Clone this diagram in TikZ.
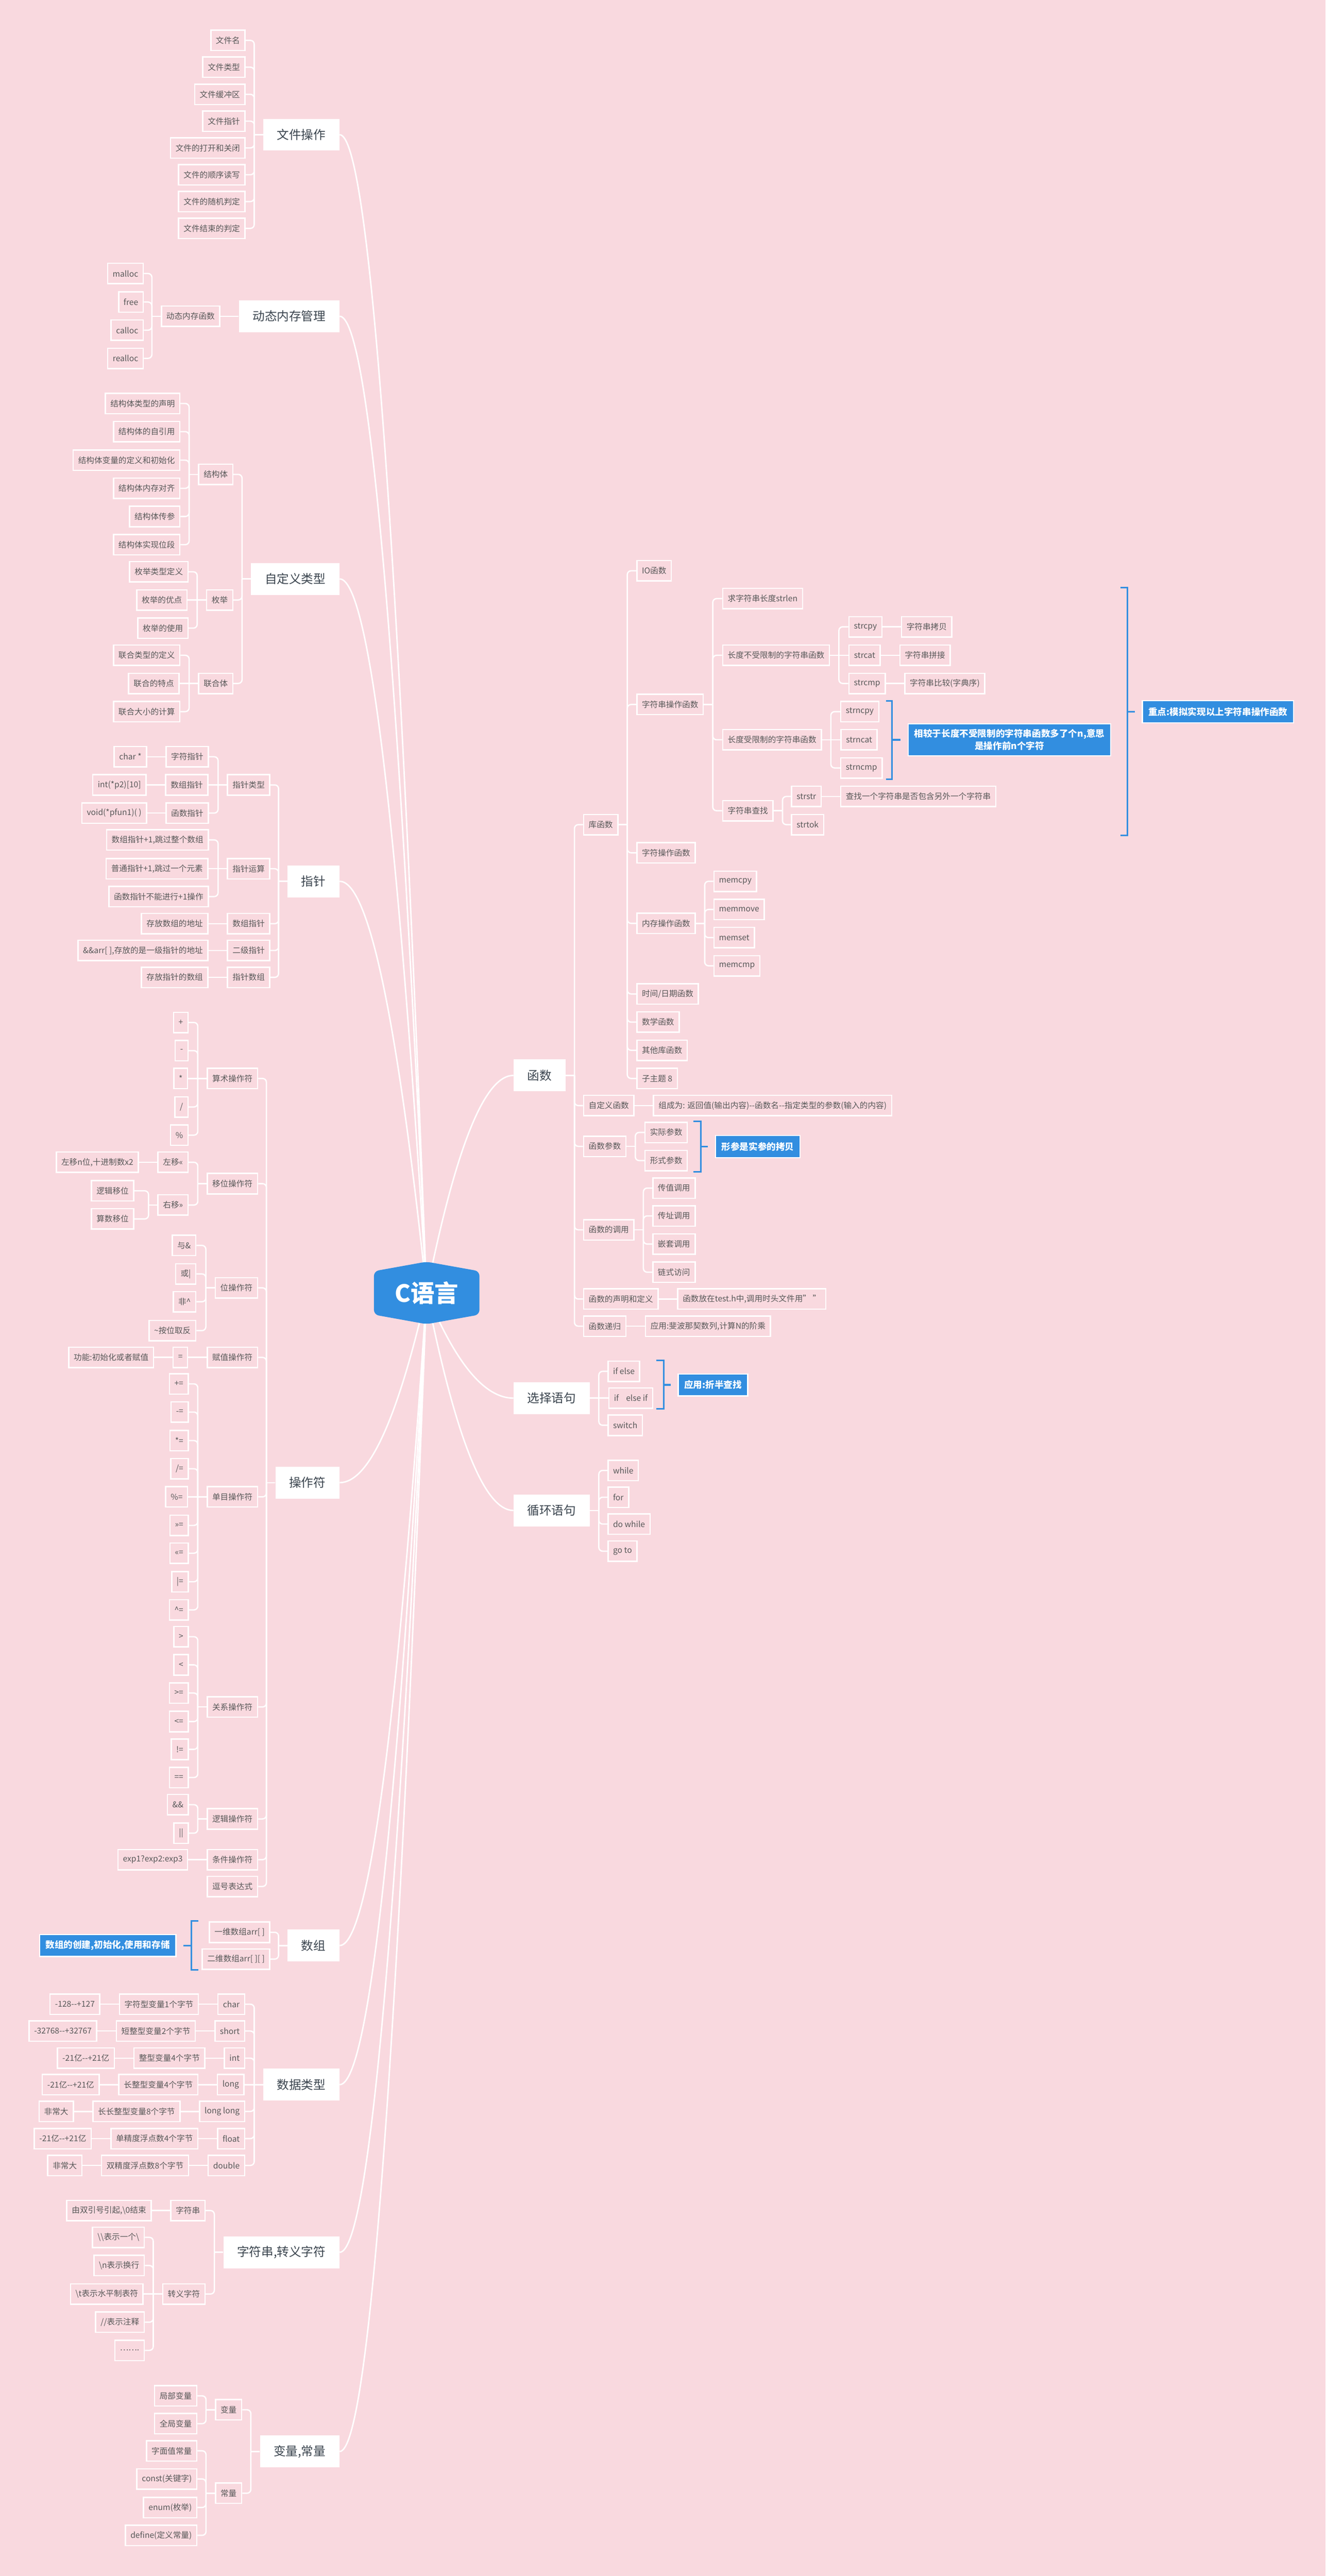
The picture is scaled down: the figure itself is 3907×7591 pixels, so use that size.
\documentclass[tikz,border=0pt]{standalone}
\usepackage{fontspec}
\setmainfont{Noto Sans CJK SC}
\usetikzlibrary{positioning,calc}
\definecolor{bg}{RGB}{249,217,223}
\definecolor{mapblue}{RGB}{50,142,224}
\definecolor{ink}{RGB}{88,88,88}
\definecolor{topicink}{RGB}{58,68,78}

\begin{document}
\begin{tikzpicture}[x=0.01cm,y=-0.01cm,node distance=0.54cm]
        \tikzstyle{leaf}=[draw=white,line width=1.1pt,fill=bg,text=ink,font=\fontsize{6.75pt}{8pt}\selectfont,inner xsep=4.2pt,inner ysep=0pt,minimum height=0.6cm]
        \tikzstyle{topic}=[fill=white,text=topicink,font=\fontsize{10.2pt}{12pt}\selectfont,inner xsep=11.5pt,minimum height=0.94cm]
        \tikzstyle{note}=[draw=white,line width=1pt,fill=mapblue,text=white,font=\bfseries\fontsize{7.6pt}{10.5pt}\selectfont,inner xsep=5pt,inner ysep=4.5pt,minimum height=0.65cm,align=center]
        \tikzstyle{link}=[draw=white,line width=1.1pt]
        \tikzstyle{elbow}=[link,rounded corners=3.2pt]
        \tikzstyle{curve}=[draw=white,line width=1.2pt]
        \tikzstyle{brace}=[draw=mapblue,line width=1.4pt]

        \useasboundingbox (0,0) rectangle (3907,7591);
        \fill[bg] (0,0) rectangle (3907,7591);
        \coordinate (hub) at (1257,3810);

        % left topics
        \node[topic,anchor=east] (T01) at (1001,397)  {文件操作};
        \node[topic,anchor=east] (T02) at (1001,932)  {动态内存管理};
        \node[topic,anchor=east] (T03) at (1001,1706) {自定义类型};
        \node[topic,anchor=east] (T04) at (1001,2597) {指针};
        \node[topic,anchor=east] (T05) at (1001,4369) {操作符};
        \node[topic,anchor=east] (T06) at (1001,5733) {数组};
        \node[topic,anchor=east] (T07) at (1001,6143) {数据类型};
        \node[topic,anchor=east] (T08) at (1001,6637) {字符串,转义字符};
        \node[topic,anchor=east] (T09) at (1001,7224) {变量,常量};
        % right topics
        \node[topic,anchor=west] (T10) at (1513,3169) {函数};
        \node[topic,anchor=west] (T11) at (1513,4120) {选择语句};
        \node[topic,anchor=west] (T12) at (1513,4451) {循环语句};

        % file
        \node[leaf,anchor=east] (F01) at (724,119) {文件名};
        \node[leaf,anchor=east] (F02) at (724,198) {文件类型};
        \node[leaf,anchor=east] (F03) at (724,278) {文件缓冲区};
        \node[leaf,anchor=east] (F04) at (724,357) {文件指针};
        \node[leaf,anchor=east] (F05) at (724,436) {文件的打开和关闭};
        \node[leaf,anchor=east] (F06) at (724,515) {文件的顺序读写};
        \node[leaf,anchor=east] (F07) at (724,594) {文件的随机判定};
        \node[leaf,anchor=east] (F08) at (724,673) {文件结束的判定};

        % memory
        \node[leaf] (M01) [left=of T02] {动态内存函数};
        \node[leaf,anchor=east] (M02) at (424,806)  {malloc};
        \node[leaf,anchor=east] (M03) at (424,890)  {free};
        \node[leaf,anchor=east] (M04) at (424,973)  {calloc};
        \node[leaf,anchor=east] (M05) at (424,1056) {realloc};

        % user types
        \node[leaf,anchor=east] (U01) at (688,1398) {结构体};
        \node[leaf,anchor=east] (U02) at (688,1768) {枚举};
        \node[leaf,anchor=east] (U03) at (688,2014) {联合体};
        \node[leaf,anchor=east] (U04) at (532,1189) {结构体类型的声明};
        \node[leaf,anchor=east] (U05) at (532,1272) {结构体的自引用};
        \node[leaf,anchor=east] (U06) at (532,1356) {结构体变量的定义和初始化};
        \node[leaf,anchor=east] (U07) at (532,1439) {结构体内存对齐};
        \node[leaf,anchor=east] (U08) at (532,1522) {结构体传参};
        \node[leaf,anchor=east] (U09) at (532,1605) {结构体实现位段};
        \node[leaf,anchor=east] (U10) at (556,1685) {枚举类型定义};
        \node[leaf]             (U11) [left=of U02] {枚举的优点};
        \node[leaf,anchor=east] (U12) at (556,1851) {枚举的使用};
        \node[leaf,anchor=east] (U13) at (532,1931) {联合类型的定义};
        \node[leaf]             (U14) [left=of U03] {联合的特点};
        \node[leaf,anchor=east] (U15) at (532,2097) {联合大小的计算};

        % pointer
        \node[leaf,anchor=east] (P01) at (797,2313) {指针类型};
        \node[leaf,anchor=east] (P02) at (797,2560) {指针运算};
        \node[leaf,anchor=east] (P03) at (797,2722) {数组指针};
        \node[leaf,anchor=east] (P04) at (797,2801) {二级指针};
        \node[leaf,anchor=east] (P05) at (797,2880) {指针数组};
        \node[leaf,anchor=east] (P06) at (616,2230) {字符指针};
        \node[leaf]             (P07) [left=of P01] {数组指针};
        \node[leaf,anchor=east] (P08) at (616,2396) {函数指针};
        \node[leaf]             (P09) [left=of P06] {char *};
        \node[leaf]             (P10) [left=of P07] {int(*p2)[10]};
        \node[leaf]             (P11) [left=of P08] {void(*pfun1)( )};
        \node[leaf,anchor=east] (P12) at (616,2475) {数组指针+1,跳过整个数组};
        \node[leaf]             (P13) [left=of P02] {普通指针+1,跳过一个元素};
        \node[leaf,anchor=east] (P14) at (616,2642) {函数指针不能进行+1操作};
        \node[leaf]             (P15) [left=of P03] {存放数组的地址};
        \node[leaf]             (P16) [left=of P04] {\&\&arr[ ],存放的是一级指针的地址};
        \node[leaf]             (P17) [left=of P05] {存放指针的数组};

        % operators
        \node[leaf,anchor=east] (O01) at (761,3178) {算术操作符};
        \node[leaf,anchor=east] (O02) at (761,3488) {移位操作符};
        \node[leaf,anchor=east] (O03) at (761,3795) {位操作符};
        \node[leaf,anchor=east] (O04) at (761,4000) {赋值操作符};
        \node[leaf,anchor=east] (O05) at (761,4411) {单目操作符};
        \node[leaf,anchor=east] (O06) at (761,5030) {关系操作符};
        \node[leaf,anchor=east] (O07) at (761,5360) {逻辑操作符};
        \node[leaf,anchor=east] (O08) at (761,5480) {条件操作符};
        \node[leaf,anchor=east] (O09) at (761,5559) {逗号表达式};
        \node[leaf,anchor=east] (O10) at (556,3013) {+};
        \node[leaf,anchor=east] (O11) at (556,3096) {-};
        \node[leaf]             (O12) [left=of O01] {*};
        \node[leaf,anchor=east] (O13) at (556,3262) {/};
        \node[leaf,anchor=east] (O14) at (556,3345) {\%};
        \node[leaf,anchor=east] (O15) at (556,3425) {左移<<};
        \node[leaf,anchor=east] (O16) at (556,3551) {右移>>};
        \node[leaf]             (O17) [left=of O15] {左移n位,十进制数x2};
        \node[leaf,anchor=east] (O18) at (396,3509) {逻辑移位};
        \node[leaf,anchor=east] (O19) at (396,3592) {算数移位};
        \node[leaf,anchor=east] (O20) at (579,3670) {与\&};
        \node[leaf,anchor=east] (O21) at (579,3754) {或|};
        \node[leaf,anchor=east] (O22) at (579,3836) {非\textasciicircum};
        \node[leaf,anchor=east] (O23) at (579,3921) {\textasciitilde 按位取反};
        \node[leaf]             (O24) [left=of O04] {=};
        \node[leaf]             (O25) [left=of O24] {功能:初始化或者赋值};
        \node[leaf,anchor=east] (O26) at (557,4078) {+=};
        \node[leaf,anchor=east] (O27) at (557,4161) {-=};
        \node[leaf,anchor=east] (O28) at (557,4245) {*=};
        \node[leaf,anchor=east] (O29) at (557,4328) {/=};
        \node[leaf]             (O30) [left=of O05] {\%=};
        \node[leaf,anchor=east] (O31) at (557,4495) {>>=};
        \node[leaf,anchor=east] (O32) at (557,4577) {<<=};
        \node[leaf,anchor=east] (O33) at (557,4661) {|=};
        \node[leaf,anchor=east] (O34) at (557,4744) {\textasciicircum=};
        \node[leaf,anchor=east] (O35) at (557,4823) {>};
        \node[leaf,anchor=east] (O36) at (557,4906) {<};
        \node[leaf,anchor=east] (O37) at (557,4989) {>=};
        \node[leaf,anchor=east] (O38) at (557,5073) {<=};
        \node[leaf,anchor=east] (O39) at (557,5155) {!=};
        \node[leaf,anchor=east] (O40) at (557,5238) {==};
        \node[leaf,anchor=east] (O41) at (557,5318) {\&\&};
        \node[leaf,anchor=east] (O42) at (557,5402) {||};
        \node[leaf]             (O43) [left=of O08] {exp1?exp2:exp3};

        % array
        \node[leaf,anchor=east] (A01) at (797,5694) {一维数组arr[ ]};
        \node[leaf,anchor=east] (A02) at (797,5773) {二维数组arr[ ][ ]};
        \node[note,anchor=east] (A03) at (520,5733) {数组的创建,初始化,使用和存储};
        \coordinate (A04) at (564,5733);

        % data types
        \node[leaf,anchor=east] (D01) at (723,5906) {char};
        \node[leaf,anchor=east] (D02) at (723,5985) {short};
        \node[leaf,anchor=east] (D03) at (723,6065) {int};
        \node[leaf]             (D04) [left=of T07] {long};
        \node[leaf,anchor=east] (D05) at (723,6222) {long long};
        \node[leaf,anchor=east] (D06) at (723,6302) {float};
        \node[leaf,anchor=east] (D07) at (723,6381) {double};
        \node[leaf] (D08) [left=of D01] {字符型变量1个字节};
        \node[leaf] (D09) [left=of D08] {-128-{}-+127};
        \node[leaf] (D10) [left=of D02] {短整型变量2个字节};
        \node[leaf] (D11) [left=of D10] {-32768-{}-+32767};
        \node[leaf] (D12) [left=of D03] {整型变量4个字节};
        \node[leaf] (D13) [left=of D12] {-21亿-{}-+21亿};
        \node[leaf] (D14) [left=of D04] {长整型变量4个字节};
        \node[leaf] (D15) [left=of D14] {-21亿-{}-+21亿};
        \node[leaf] (D16) [left=of D05] {长长整型变量8个字节};
        \node[leaf] (D17) [left=of D16] {非常大};
        \node[leaf] (D18) [left=of D06] {单精度浮点数4个字节};
        \node[leaf] (D19) [left=of D18] {-21亿-{}-+21亿};
        \node[leaf] (D20) [left=of D07] {双精度浮点数8个字节};
        \node[leaf] (D21) [left=of D20] {非常大};

        % strings
        \node[leaf,anchor=east] (S01) at (606,6514) {字符串};
        \node[leaf,anchor=east] (S02) at (606,6760) {转义字符};
        \node[leaf]             (S03) [left=of S01] {由双引号引起,\textbackslash 0结束};
        \node[leaf,anchor=east] (S04) at (427,6593) {\textbackslash\textbackslash 表示一个\textbackslash};
        \node[leaf,anchor=east] (S05) at (427,6676) {\textbackslash n表示换行};
        \node[leaf]             (S06) [left=of S02] {\textbackslash t表示水平制表符};
        \node[leaf,anchor=east] (S07) at (427,6843) {//表示注释};
        \node[leaf,anchor=east] (S08) at (427,6926) {…….};

        % variables
        \node[leaf,anchor=east] (V01) at (714,7101) {变量};
        \node[leaf,anchor=east] (V02) at (714,7347) {常量};
        \node[leaf,anchor=east] (V03) at (582,7060) {局部变量};
        \node[leaf,anchor=east] (V04) at (582,7142) {全局变量};
        \node[leaf,anchor=east] (V05) at (582,7222) {字面值常量};
        \node[leaf,anchor=east] (V06) at (582,7305) {const(关键字)};
        \node[leaf,anchor=east] (V07) at (582,7389) {enum(枚举)};
        \node[leaf,anchor=east] (V08) at (582,7471) {define(定义常量)};

        % functions
        \node[leaf,anchor=west] (N01) at (1718,2430) {库函数};
        \node[leaf,anchor=west] (N02) at (1718,3258) {自定义函数};
        \node[leaf,anchor=west] (N03) at (1718,3378) {函数参数};
        \node[leaf,anchor=west] (N04) at (1718,3624) {函数的调用};
        \node[leaf,anchor=west] (N05) at (1718,3828) {函数的声明和定义};
        \node[leaf,anchor=west] (N06) at (1718,3908) {函数递归};
        \node[leaf,anchor=west] (N07) at (1875,1682) {IO函数};
        \node[leaf,anchor=west] (N08) at (1875,2076) {字符串操作函数};
        \node[leaf,anchor=west] (N09) at (1875,2513) {字符操作函数};
        \node[leaf,anchor=west] (N10) at (1875,2721) {内存操作函数};
        \node[leaf,anchor=west] (N11) at (1875,2929) {时间/日期函数};
        \node[leaf,anchor=west] (N12) at (1875,3012) {数学函数};
        \node[leaf,anchor=west] (N13) at (1875,3095) {其他库函数};
        \node[leaf,anchor=west] (N14) at (1875,3178) {子主题 8};
        \node[leaf,anchor=west] (N15) at (2128,1764) {求字符串长度strlen};
        \node[leaf,anchor=west] (N16) at (2128,1931) {长度不受限制的字符串函数};
        \node[leaf,anchor=west] (N17) at (2128,2180) {长度受限制的字符串函数};
        \node[leaf,anchor=west] (N18) at (2128,2389) {字符串查找};
        \node[leaf,anchor=west] (N19) at (2500,1847) {strcpy};
        \node[leaf]             (N20) [right=of N16] {strcat};
        \node[leaf,anchor=west] (N21) at (2500,2014) {strcmp};
        \node[leaf] (N22) [right=of N19] {字符串拷贝};
        \node[leaf] (N23) [right=of N20] {字符串拼接};
        \node[leaf] (N24) [right=of N21] {字符串比较(字典序)};
        \node[leaf,anchor=west] (N25) at (2476,2097) {strncpy};
        \node[leaf]             (N26) [right=of N17] {strncat};
        \node[leaf,anchor=west] (N27) at (2476,2263) {strncmp};
        \node[note,anchor=west] (N28) at (2675,2180) {相较于长度不受限制的字符串函数多了个n,意思\\是操作前n个字符};
        \coordinate (N29) at (2629,2180);
        \node[leaf,anchor=west] (N30) at (2331,2347) {strstr};
        \node[leaf,anchor=west] (N31) at (2331,2430) {strtok};
        \node[leaf] (N32) [right=of N30] {查找一个字符串是否包含另外一个字符串};
        \coordinate (N33) at (3323,2097);
        \node[note,anchor=west] (N34) at (3365,2097) {重点:模拟实现以上字符串操作函数};
        \node[leaf,anchor=west] (N35) at (2102,2597) {memcpy};
        \node[leaf,anchor=west] (N36) at (2102,2680) {memmove};
        \node[leaf,anchor=west] (N37) at (2102,2763) {memset};
        \node[leaf,anchor=west] (N38) at (2102,2846) {memcmp};
        \node[leaf] (N39) [right=of N02] {组成为: 返回值(输出内容)-{}-函数名-{}-指定类型的参数(输入的内容)};
        \node[leaf,anchor=west] (N40) at (1899,3337) {实际参数};
        \node[leaf,anchor=west] (N41) at (1899,3420) {形式参数};
        \coordinate (N42) at (2065,3379);
        \node[note,anchor=west] (N43) at (2107,3379) {形参是实参的拷贝};
        \node[leaf,anchor=west] (N44) at (1922,3501) {传值调用};
        \node[leaf,anchor=west] (N45) at (1922,3583) {传址调用};
        \node[leaf,anchor=west] (N46) at (1922,3666) {嵌套调用};
        \node[leaf,anchor=west] (N47) at (1922,3749) {链式访问};
        \node[leaf] (N48) [right=of N05] {函数放在test.h中,调用时头文件用" "};
        \node[leaf] (N49) [right=of N06] {应用:斐波那契数列,计算N的阶乘};

        % selection, loop
        \node[leaf,anchor=west] (X01) at (1790,4041) {if else};
        \node[leaf]             (X02) [right=of T11] {if~~~ else if};
        \node[leaf,anchor=west] (X03) at (1790,4200) {switch};
        \coordinate (X04) at (1956,4081);
        \node[note,anchor=west] (X05) at (1997,4081) {应用:折半查找};
        \node[leaf,anchor=west] (L01) at (1790,4333) {while};
        \node[leaf,anchor=west] (L02) at (1790,4412) {for};
        \node[leaf,anchor=west] (L03) at (1790,4491) {do while};
        \node[leaf,anchor=west] (L04) at (1790,4571) {go to};

        % spines, left side
        \foreach \p/\cs in {T01/{F01,F02,F03,F04,F05,F06,F07,F08}, M01/{M02,M03,M04,M05},
                            T03/{U01,U02,U03}, U01/{U04,U05,U06,U07,U08,U09}, U02/{U10,U12}, U03/{U13,U15},
                            T04/{P01,P02,P03,P04,P05}, P01/{P06,P08}, P02/{P12,P14},
                            T05/{O01,O02,O03,O04,O05,O06,O07,O08,O09}, O01/{O10,O11,O13,O14}, O02/{O15,O16},
                            O16/{O18,O19}, O03/{O20,O21,O22,O23}, O05/{O26,O27,O28,O29,O31,O32,O33,O34},
                            O06/{O35,O36,O37,O38,O39,O40}, O07/{O41,O42}, T06/{A01,A02},
                            T07/{D01,D02,D03,D05,D06,D07}, T08/{S01,S02}, S02/{S04,S05,S07,S08},
                            T09/{V01,V02}, V01/{V03,V04}, V02/{V05,V06,V07,V08}} {
          \draw[link] (\p.west) -- ++(-26,0) coordinate (J\p);
          \foreach \c in \cs \draw[elbow] (J\p) |- (\c.east);
        }
        \foreach \a/\b in {T02/M01, U02/U11, U03/U14, P01/P07, P06/P09, P07/P10, P08/P11, P02/P13,
                           P03/P15, P04/P16, P05/P17, O01/O12, O15/O17, O04/O24, O24/O25, O05/O30,
                           O08/O43, T07/D04, D01/D08, D08/D09, D02/D10, D10/D11, D03/D12, D12/D13,
                           D04/D14, D14/D15, D05/D16, D16/D17, D06/D18, D18/D19, D07/D20, D20/D21,
                           S01/S03, S02/S06}
          \draw[link] (\a.west) -- (\b.east);

        % spines, right side
        \foreach \p/\cs in {T10/{N01,N02,N03,N04,N05,N06}, N01/{N07,N08,N09,N10,N11,N12,N13,N14},
                            N08/{N15,N16,N17,N18}, N16/{N19,N21}, N17/{N25,N27}, N18/{N30,N31},
                            N10/{N35,N36,N37,N38}, N03/{N40,N41}, N04/{N44,N45,N46,N47},
                            T11/{X01,X03}, T12/{L01,L02,L03,L04}} {
          \draw[link] (\p.east) -- ++(26,0) coordinate (J\p);
          \foreach \c in \cs \draw[elbow] (J\p) |- (\c.west);
        }
        \foreach \a/\b in {N16/N20, N19/N22, N20/N23, N21/N24, N17/N26, N30/N32, N02/N39,
                           N05/N48, N06/N49, T11/X02}
          \draw[link] (\a.east) -- (\b.west);

        % blue brackets
        \draw[brace] (585,5661) -- (564,5661) -- (564,5805) -- (585,5805);
        \draw[brace,shorten >=0.21cm] (A04) -- (A03.east);
        \draw[brace] (2612,2065) -- (2629,2065) -- (2629,2296) -- (2612,2296);
        \draw[brace,shorten >=0.21cm] (N29) -- (N28.west);
        \draw[brace] (3302,1731) -- (3323,1731) -- (3323,2462) -- (3302,2462);
        \draw[brace,shorten >=0.21cm] (N33) -- (N34.west);
        \draw[brace] (2044,3304) -- (2065,3304) -- (2065,3453) -- (2044,3453);
        \draw[brace,shorten >=0.21cm] (N42) -- (N43.west);
        \draw[brace] (1934,4009) -- (1956,4009) -- (1956,4152) -- (1934,4152);
        \draw[brace,shorten >=0.21cm] (X04) -- (X05.west);

        % main branches
        \foreach \t in {T01,T02,T03,T04,T05,T06,T07,T08,T09}
          \draw[curve] let \p1=(hub), \p2=(\t.east) in
            (\p1) .. controls ({\x1+(\x2-\x1)/3},{\y1+2*(\y2-\y1)/3}) and ({\x2+(\x1-\x2)/3},\y2) .. (\p2);
        \foreach \t in {T10,T11,T12}
          \draw[curve] let \p1=(hub), \p2=(\t.west) in
            (\p1) .. controls ({\x1+(\x2-\x1)/3},{\y1+2*(\y2-\y1)/3}) and ({\x2+(\x1-\x2)/3},\y2) .. (\p2);

        % centre
        \fill[mapblue,rounded corners=4pt] (1257,3718) -- (1413,3746) -- (1413,3874) -- (1257,3902)
              -- (1102,3874) -- (1102,3746) -- cycle;
        \node[text=white,font=\bfseries\fontsize{20pt}{22pt}\selectfont] (C) at (hub) {C语言};
\end{tikzpicture}
\end{document}
